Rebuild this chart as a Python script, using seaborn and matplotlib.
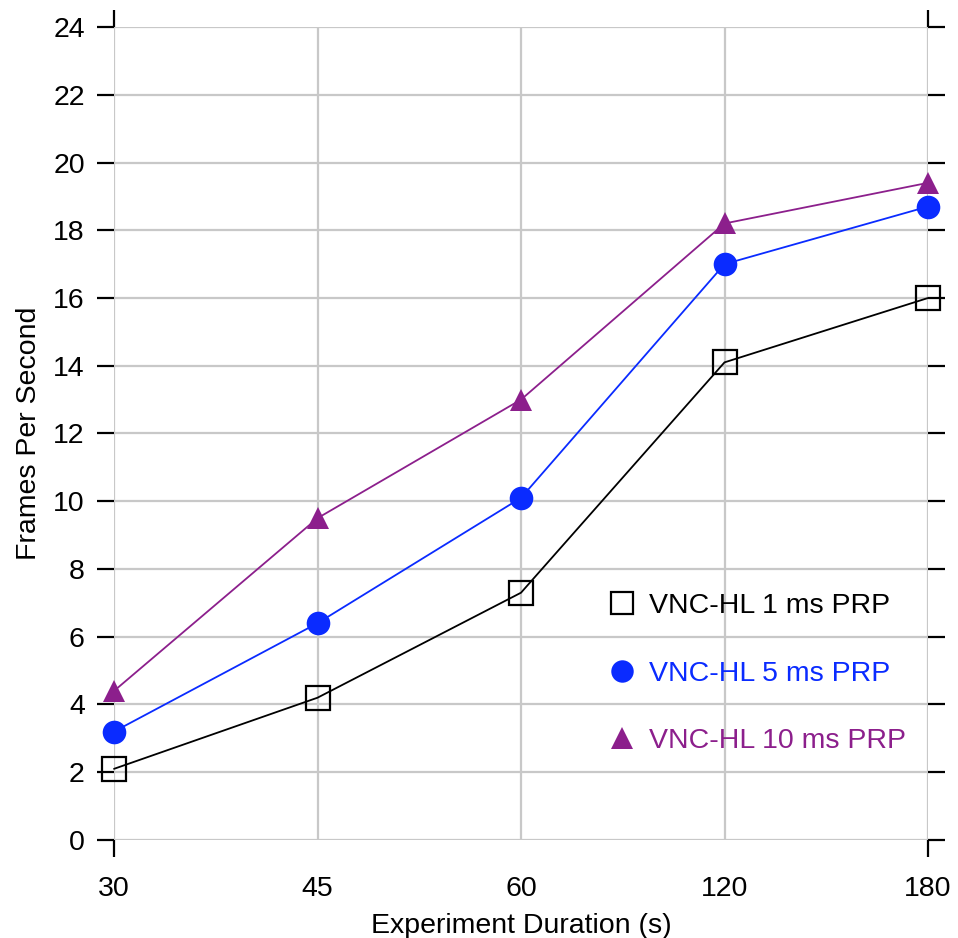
import numpy as np
import pandas as pd
import matplotlib
matplotlib.use("Agg")
import matplotlib.pyplot as plt
from matplotlib.lines import Line2D
from matplotlib.ticker import FixedLocator
import seaborn as sns

# Experiment durations (s) shown as evenly spaced categories
durations = ["30", "45", "60", "120", "180"]

# Frames per second for each PRP setting
fps_1ms = [2.1, 4.2, 7.3, 14.1, 16.0]
fps_5ms = [3.2, 6.4, 10.1, 17.0, 18.7]
fps_10ms = [4.4, 9.5, 13.0, 18.2, 19.4]

series_names = ["VNC-HL 1 ms PRP", "VNC-HL 5 ms PRP", "VNC-HL 10 ms PRP"]
y_ticks = list(range(0, 25, 2))

colors = ["#000000", "#0a2bff", "#8c1f8c"]
markers = ["s", "o", "^"]
sizes = [17, 17, 16]

pos = np.arange(len(durations))
df = pd.DataFrame({
    "pos": np.tile(pos, 3),
    "fps": fps_1ms + fps_5ms + fps_10ms,
    "series": np.repeat(series_names, len(durations)),
})

sns.set_theme(style="white")
plt.rcParams["font.family"] = ["Liberation Sans", "DejaVu Sans"]
plt.rcParams["text.color"] = "black"
plt.rcParams["axes.labelcolor"] = "black"
plt.rcParams["xtick.color"] = "black"
plt.rcParams["ytick.color"] = "black"

fig = plt.figure(figsize=(9.58, 9.38), dpi=100)
ax = fig.add_axes([0.119, 0.1045, 0.8497, 0.8667])

for name, c, m, s in zip(series_names, colors, markers, sizes):
    sub = df[df["series"] == name]
    mfc = "none" if m == "s" else c
    sns.lineplot(data=sub, x="pos", y="fps", ax=ax, color=c, lw=1.3,
                 marker=m, markersize=s, markerfacecolor=mfc,
                 markeredgecolor=c, markeredgewidth=1.6 if m == "s" else 0,
                 legend=False, zorder=3, clip_on=False)

ax.set_xlim(pos[0], pos[-1])
ax.set_ylim(0, 24)
ax.set_xticks(pos)
ax.set_xticklabels(durations)
ax.set_yticks(y_ticks)
ax.set_yticklabels([str(v) for v in y_ticks])

# x ticks only drawn at the axis ends, on top and bottom
ax.xaxis.remove_overlapping_locs = False
ax.xaxis.set_minor_locator(FixedLocator([pos[0], pos[-1]]))
ax.tick_params(axis="x", which="major", length=0, pad=26, labelsize=20.5)
ax.tick_params(axis="x", which="minor", length=12, width=1.6, color="black",
               direction="out", top=True, bottom=True)
ax.tick_params(axis="y", which="major", length=12, width=1.6, color="black",
               direction="out", left=True, right=True, pad=9, labelsize=20.5)

ax.grid(True, which="major", color="#c8c8c8", lw=1.6)
ax.set_axisbelow(True)
for sp in ax.spines.values():
    sp.set_visible(False)

ax.set_xlabel("Experiment Duration (s)", fontsize=20.5, labelpad=8)
ax.set_ylabel("Frames Per Second", fontsize=20.5, labelpad=8)

handles = [Line2D([], [], linestyle="none", marker=m, markersize=s * 0.95,
                  markerfacecolor=("none" if m == "s" else c),
                  markeredgecolor=c, markeredgewidth=1.6 if m == "s" else 0)
           for c, m, s in zip(colors, markers, sizes)]
leg = ax.legend(handles, series_names, loc="upper left",
                bbox_to_anchor=(0.575, 0.335), frameon=False, fontsize=20.5,
                handlelength=1.0, handletextpad=0.45, labelspacing=1.45)
for t, c in zip(leg.get_texts(), colors):
    t.set_color(c)

fig.savefig("out.png", dpi=100)
